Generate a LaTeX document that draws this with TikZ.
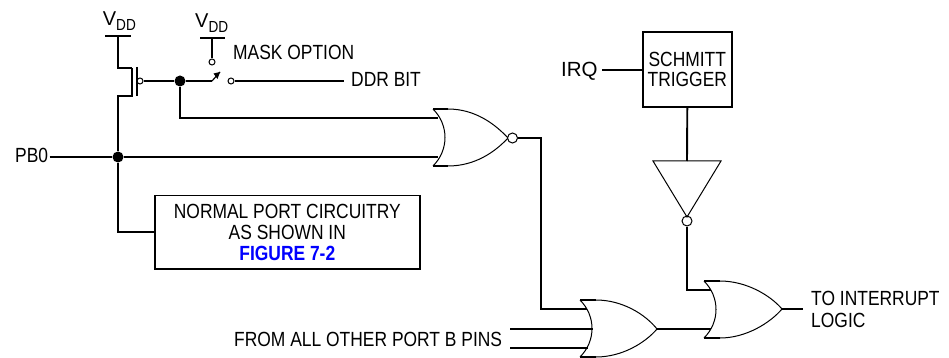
\documentclass[tikz,border=0pt]{standalone}
\usepackage{fontspec}
\setmainfont[FakeStretch=0.85]{Liberation Sans}
\newfontfamily\widefam{Liberation Sans}
\newcommand{\vdd}{{\widefam\fontsize{20}{22}\selectfont V}\raisebox{-5pt}{\fontsize{16}{18}\selectfont DD}}
\begin{document}
\begin{tikzpicture}[x=1pt,y=-1pt,
  wire/.style={line width=1.9pt,line join=miter},
  outline/.style={line width=1pt,line join=miter},
  dot/.style={circle,fill=black,inner sep=0pt,minimum size=#1},
  bubble/.style={circle,draw,fill=white,line width=1pt,inner sep=0pt,minimum size=#1},
  lbl/.style={inner sep=0pt,font=\fontsize{20.5}{22}\selectfont,text=black},
  boxed/.style={draw,line width=1.9pt,inner sep=0pt,align=center,font=\fontsize{20.5}{20.8}\selectfont}]
\useasboundingbox (0,0) rectangle (949,358);
% --- reference points
\coordinate (vddA) at (118,36);
\coordinate (srcT) at (118,68);
\coordinate (chT) at (132,68);
\coordinate (chB) at (132,96);
\coordinate (srcB) at (118,96);
\coordinate (pbIn) at (49.5,157);
\node[dot=11pt] (jGate) at (180,81) {};
\node[dot=11pt] (jPB) at (118,157) {};
\node[bubble=6pt] (gateB) at (140,81) {};
\node[bubble=6pt] (swA) at (231,81) {};
\node[bubble=6pt] (swV) at (212,62) {};
\coordinate (vddB) at (212,38);
\coordinate (swTip) at (220,72);
\coordinate (swBase) at (212,81);
\coordinate (ddrEnd) at (343.5,81);
% labels
\node[lbl,anchor=base west] (tVa) at (102.7,26) {\vdd};
\node[lbl,anchor=base west] (tVb) at (195,28) {\vdd};
\node[lbl,anchor=base west] (tMask) at (233,60) {MASK OPTION};
\node[lbl,anchor=base west] (tDDR) at (351,87) {DDR BIT};
\node[lbl,anchor=base west] (tPB) at (15,162.7) {PB0};
\node[lbl,anchor=base west,font=\widefam\fontsize{20.5}{22}\selectfont] (tIRQ) at (561,76.7) {IRQ};
\node[lbl,anchor=base west] (tOther) at (234,346) {FROM ALL OTHER PORT B PINS};
\node[lbl,anchor=base west] (tInt) at (811,305) {TO INTERRUPT};
\node[lbl,anchor=base west] (tLog) at (811,327.7) {LOGIC};
% boxes
\node[boxed,minimum width=89pt,minimum height=75pt] (schmitt) at (687.3,69.5) {SCHMITT\\TRIGGER};
\node[boxed,minimum width=265pt,minimum height=73.5pt] (port) at (287.3,232.2)
 {NORMAL PORT CIRCUITRY\\AS SHOWN IN\\\textcolor{blue}{\bfseries FIGURE 7-2}};
% transistor & VDD
\draw[wire] (105,36) -- (131,36);
\draw[wire] (vddA) -- (srcT) -- (chT);
\draw[wire] (chT) -- (chB) -- (srcB) -- (jPB);
\draw[wire] (136.7,67) -- (136.7,96.5);
\draw[wire] (gateB) -- (jGate);
\draw[wire] (200,38) -- (225,38);
\draw[wire] (vddB) -- (swV);
% switch
\draw[wire] (jGate) -- (swBase);
\draw[line width=1.2pt] (swBase) -- (swTip);
\fill (swTip) -- (213.5,73.5) -- (217.5,79) -- cycle;
\draw[wire] (swA) -- (ddrEnd);
% NOR
\coordinate (norA) at (438,118);
\coordinate (norB) at (438,157);
\draw[wire] (jGate) |- (norA);
\draw[wire] (pbIn) -- (jPB) -- (norB);
\draw[wire] (jPB) |- (port.west);
\draw[outline] (433,109) .. controls (449,125) and (449,150) .. (433,166);
\draw[outline] (448,109) .. controls (475,109) and (495,124) .. (508,138) .. controls (495,152) and (475,166) .. (448,166);
\draw[wire] (433,109) -- (448,109) (433,166) -- (448,166);
\node[bubble=10pt] (norOut) at (512.5,138) {};
% OR 2
\coordinate (orA) at (587,308.7);
\coordinate (orB) at (592.5,329);
\coordinate (orC) at (588,348);
\coordinate (orOut) at (657,329);
\coordinate (fromA) at (510,329);
\coordinate (fromB) at (510,348);
\draw[wire] (norOut) -| (541,308.7) -- (orA);
\draw[wire] (fromA) -- (orB);
\draw[wire] (fromB) -- (orC);
\draw[outline] (580,300) .. controls (596,316) and (596,341) .. (580,357);
\draw[outline] (596,300) .. controls (622,300) and (645,314) .. (657,329) .. controls (645,343) and (622,357) .. (596,357);
\draw[wire] (580,300) -- (596,300) (580,357) -- (596,357);
% OR 3
\coordinate (thA) at (711,290);
\coordinate (thB) at (711,329);
\coordinate (thOut) at (782,309);
\coordinate (toInt) at (803,309);
\draw[wire] (orOut) -- (thB);
\draw[wire] (thOut) -- (toInt);
\node[bubble=10pt] (invOut) at (687,221) {};
\draw[wire] (invOut) |- (thA);
\draw[outline] (704,281) .. controls (720,297) and (720,322) .. (704,338);
\draw[outline] (720,281) .. controls (746,281) and (770,295) .. (782,309) .. controls (770,323) and (746,338) .. (720,338);
\draw[wire] (704,281) -- (720,281) (704,338) -- (720,338);
% Inverter
\coordinate (invTop) at (687,161);
\draw[wire] (schmitt.south) -- (invTop);
\draw[outline] (653,161) -- (721,161) -- (687,217) -- cycle;
% IRQ
\coordinate (irqIn) at (602,70);
\draw[wire] (irqIn) -- (schmitt.west |- irqIn);
\end{tikzpicture}
\end{document}
